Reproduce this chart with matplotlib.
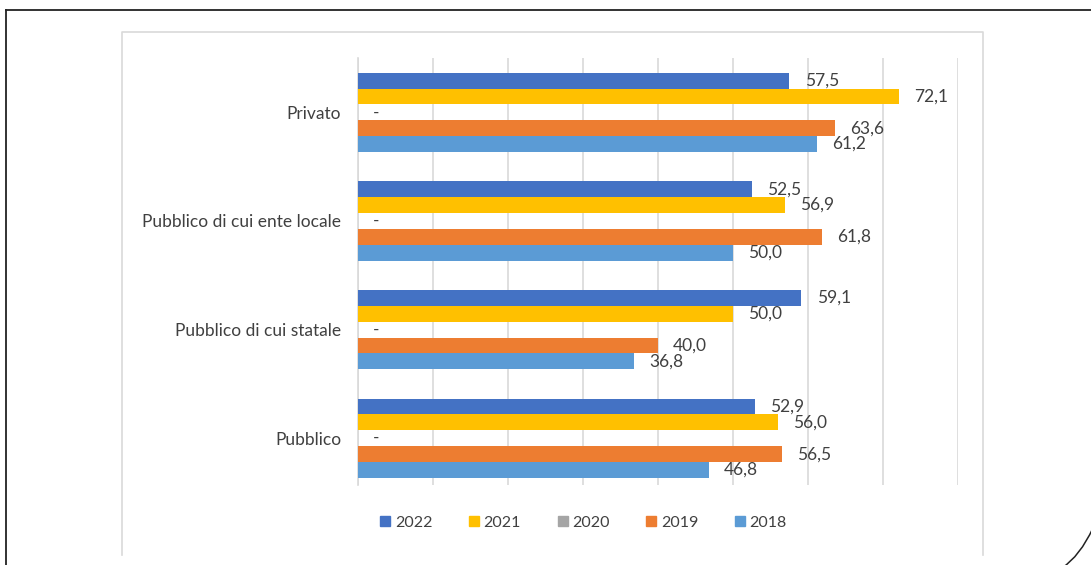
import matplotlib.pyplot as plt
import numpy as np
from matplotlib.lines import Line2D
from matplotlib.path import Path
from matplotlib.patches import PathPatch

plt.rcParams['font.family'] = ['Lato', 'DejaVu Sans']

# dati (dal basso verso l'alto)
categorie = ['Pubblico', 'Pubblico di cui statale', 'Pubblico di cui ente locale', 'Privato']
anni = ['2022', '2021', '2020', '2019', '2018']
valori = {
    '2022': [52.9, 59.1, 52.5, 57.5],
    '2021': [56.0, 50.0, 56.9, 72.1],
    '2020': [None, None, None, None],
    '2019': [56.5, 40.0, 61.8, 63.6],
    '2018': [46.8, 36.8, 50.0, 61.2],
}
colori = {'2022': '#4472C4', '2021': '#FFC000', '2020': '#A5A5A5',
          '2019': '#ED7D31', '2018': '#5B9BD5'}

W, H = 1091, 565
fig = plt.figure(figsize=(W / 100, H / 100), dpi=100)

# cornice esterna e riquadro del grafico
deco = fig.add_axes([0, 0, 1, 1])
deco.set_xlim(0, W)
deco.set_ylim(H, 0)
deco.axis('off')
deco.plot([6, 6], [10, H + 5], color='#222222', lw=1.3)
deco.plot([6, W + 5], [10, 10], color='#222222', lw=1.3)
arco = Path([(W + 2, 528), (1080, 556), (1062, H + 3)],
            [Path.MOVETO, Path.CURVE3, Path.CURVE3])
deco.add_patch(PathPatch(arco, fill=False, color='#222222', lw=1.1))
deco.plot([122, 122, 983, 983], [555, 32, 32, 555], color='#d9d9d9', lw=1.2)

ax = fig.add_axes([358 / W, 1 - 485 / H, 600 / W, 427 / H])
y = np.arange(len(categorie))
h = 0.146

for i, anno in enumerate(anni):
    pos = y + (2 - i) * h
    vals = valori[anno]
    larghezze = [v if v is not None else 0 for v in vals]
    ax.barh(pos, larghezze, height=h, color=colori[anno], zorder=3)
    for p, v in zip(pos, vals):
        testo = '-' if v is None else f'{v:.1f}'.replace('.', ',')
        ax.annotate(testo, (v if v is not None else 0, p), xytext=(11, 0),
                    textcoords='offset points', ha='left', va='center',
                    fontsize=12.5, color='#404040')

ax.set_xlim(0, 80)
ax.set_ylim(-0.43, 3.5)
ax.set_xticks(np.arange(0, 81, 10))
ax.set_xticklabels([])
ax.set_yticks(y)
ax.set_yticklabels(categorie, fontsize=12.5, color='#404040')
ax.tick_params(axis='both', length=0)
ax.tick_params(axis='y', pad=12)
ax.grid(axis='x', color='#d9d9d9', lw=1.2, zorder=0)
for s in ['top', 'right', 'bottom']:
    ax.spines[s].set_visible(False)
ax.spines['left'].set_color('#d9d9d9')
ax.spines['left'].set_linewidth(1.2)

handles = [Line2D([], [], marker='s', ls='', markersize=7, color=colori[a]) for a in anni]
fig.legend(handles, anni, loc='center', bbox_to_anchor=(582 / W, 1 - 523 / H),
           ncol=5, frameon=False, fontsize=11.5, labelcolor='#404040',
           handletextpad=0.1, columnspacing=2.1, handlelength=1.0)

fig.savefig('out.png', dpi=100)
